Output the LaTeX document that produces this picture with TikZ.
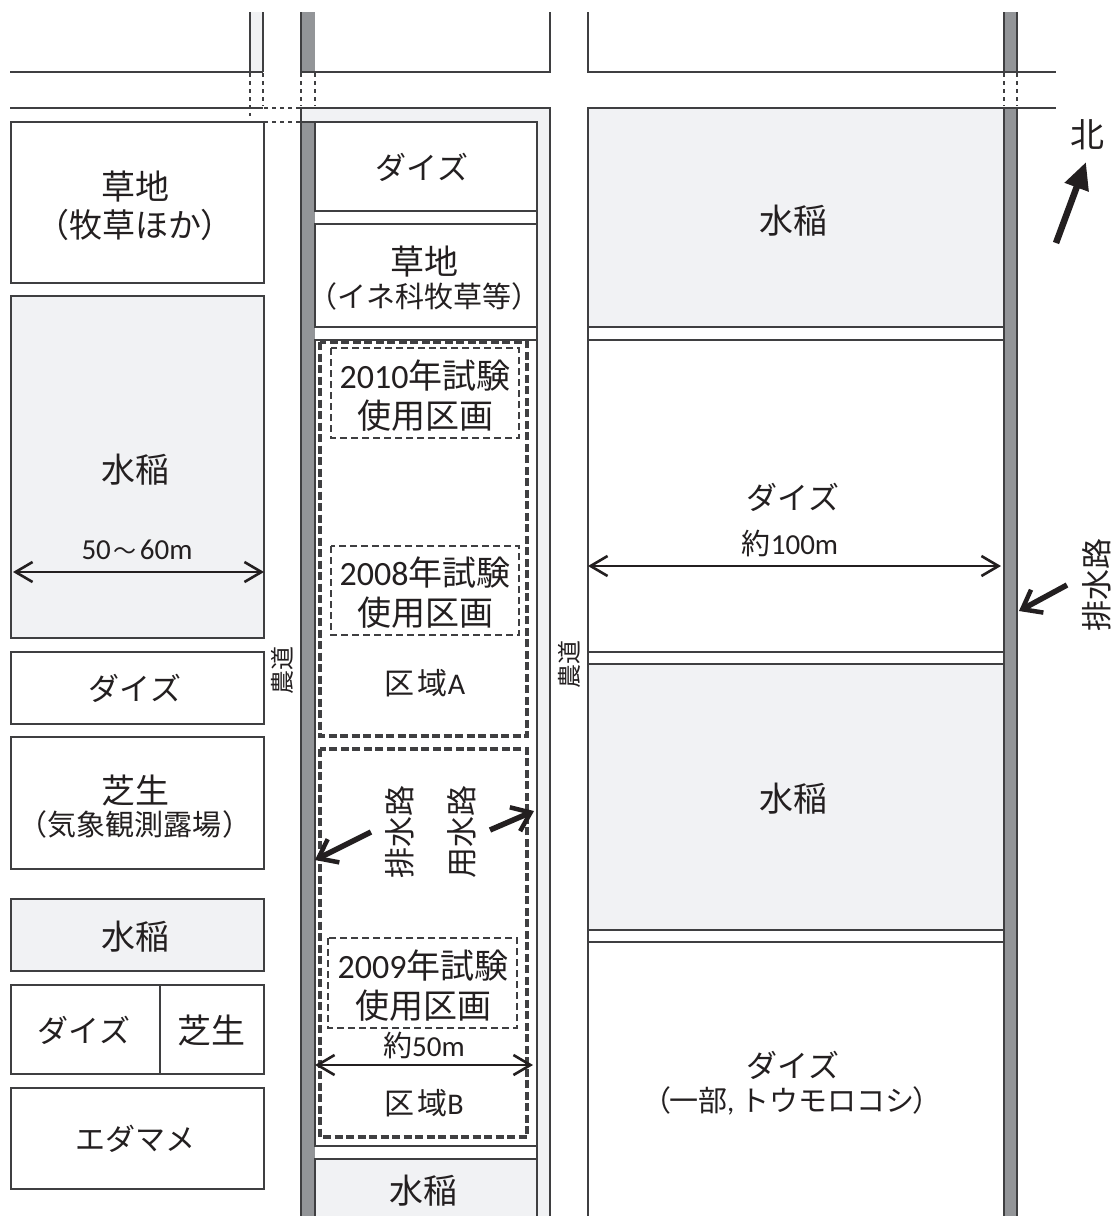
\documentclass[tikz,border=0pt]{standalone}
\usepackage{fontspec}
\usetikzlibrary{arrows.meta}
\setmainfont{Noto Sans CJK JP}
\newfontfamily\lat{Carlito}
\newcommand{\fs}[1]{\fontsize{#1}{#1}\selectfont}
\newcommand{\lp}[1]{\kern-.42em（\kern#1}
\newcommand{\rp}[1]{\kern#1）\kern-.42em}
\definecolor{ln}{HTML}{3F3F41}
\definecolor{ditch}{HTML}{939598}
\definecolor{pale}{HTML}{F1F2F4}
\definecolor{ink}{HTML}{231F20}
\tikzset{
 plot/.style={draw=ln,line width=1.7pt,fill=white},
 paddy/.style={plot,fill=pale},
 road/.style={draw=ln,line width=1.7pt},
 dots/.style={draw=ln,line width=2pt,dash pattern=on 3.5pt off 4.5pt},
 zone/.style={draw=ln,line width=3.2pt,dash pattern=on 8pt off 3.5pt},
 trial/.style={draw=ln,line width=1.6pt,dash pattern=on 7pt off 4pt},
 dim/.style={draw=ink,line width=2.6pt,{Straight Barb[length=17pt,width=20pt]}-{Straight Barb[length=17pt,width=20pt]}},
 pointer/.style={draw=ink,line width=5.5pt,-{Straight Barb[length=17pt,width=26pt,line width=4.5pt]}},
 lab/.style={text=ink,font=\fs{34},align=center,inner sep=0pt},
 kana/.style={text=ink,font=\fs{31},align=center,inner sep=0pt},
 mid/.style={text=ink,font=\fs{30},align=center,inner sep=0pt},
 sub/.style={text=ink,font=\fs{29},align=center,inner sep=0pt},
 tiny/.style={text=ink,font=\fs{24},inner sep=0pt,rotate=90},
 vert/.style={text=ink,font=\fs{31},inner sep=0pt,rotate=90}
}
\begin{document}
\begin{tikzpicture}[x=1pt,y=-1pt]
\useasboundingbox (0,0) rectangle (1118,1216);
% light roads and ditches
\fill[pale] (250,12) rectangle (263,72);
\fill[pale] (301,108) rectangle (550,122);
\fill[pale] (537,108) rectangle (550,1216);
\fill[ditch] (301,12) rectangle (315,72);
\fill[ditch] (301,122) rectangle (315,1216);
\fill[ditch] (1004,12) rectangle (1017,72);
\fill[ditch] (1004,108) rectangle (1017,1216);
% road edges, top
\draw[road] (250,12) -- (250,72);
\draw[road] (263,12) -- (263,72);
\draw[road] (10,72) -- (263,72);
\draw[road] (10,108) -- (263,108);
\draw[road] (301,12) -- (301,72) -- (550,72) -- (550,12);
\draw[road] (588,12) -- (588,72) -- (1056,72);
\draw[road] (588,108) -- (1056,108);
\draw[road] (1004,12) -- (1004,72);
\draw[road] (1017,12) -- (1017,72);
\draw[road] (1004,108) -- (1004,1216);
\draw[road] (1017,108) -- (1017,1216);
\draw[road] (301,1216) -- (301,108) -- (550,108) -- (550,1216);
\draw[road] (301,122) -- (537,122) -- (537,1216);
% crossings
\draw[dots] (250,73) -- (250,116);
\draw[dots] (263,73) -- (263,106);
\draw[dots] (301,73) -- (301,106);
\draw[dots] (315,73) -- (315,106);
\draw[dots] (264,108) -- (300,108);
\draw[dots] (264,122) -- (300,122);
\draw[dots] (1004,73) -- (1004,106);
\draw[dots] (1017,73) -- (1017,106);
% left column
\draw[plot] (11,122) rectangle (264,283);
\draw[paddy] (11,296) rectangle (264,638);
\draw[plot] (11,652) rectangle (264,724);
\draw[plot] (11,737) rectangle (264,869);
\draw[paddy] (11,899) rectangle (264,971);
\draw[plot] (11,985) rectangle (264,1074);
\draw[road] (160,985) -- (160,1074);
\draw[plot] (11,1088) rectangle (264,1189);
% centre column
\draw[plot] (315,122) rectangle (537,211);
\draw[plot] (315,224) rectangle (537,327);
\draw[plot] (315,340) rectangle (537,1146);
\draw[paddy] (315,1159) rectangle (537,1217);
\draw[zone] (320,342) rectangle (527,736);
\draw[zone] (320,749) rectangle (527,1137);
\draw[trial] (331,348) rectangle (519,438);
\draw[trial] (331,546) rectangle (519,635);
\draw[trial] (328,938) rectangle (517,1028);
% right column
\draw[road] (588,108) -- (588,1216);
\draw[paddy] (588,108) rectangle (1004,327);
\draw[plot] (588,340) rectangle (1004,652);
\draw[paddy] (588,664) rectangle (1004,930);
\draw[plot] (588,942) rectangle (1004,1217);
% labels, left
\node[lab] (t1) at (135,187) {草地};
\node[lab,font=\fs{33}] (t2) at (135,225) {\lp{0pt}牧草ほか\rp{0pt}};
\node[lab] (t3) at (135,470) {水稲};
\node[sub] (t4) at (137,550) {{\lat 50}\makebox[29pt]{\fs{23}〜}{\lat 60m}};
\node[kana] (t5) at (135,688) {ダイズ};
\node[lab] (t6) at (135,790) {芝生};
\node[sub] (t7) at (135,824) {\lp{1pt}気象観測露場\rp{1pt}};
\node[lab] (t8) at (135,937) {水稲};
\node[kana] (t9) at (84,1030) {ダイズ};
\node[lab] (t10) at (211,1030) {芝生};
\node[mid] (t11) at (135,1139) {エダマメ};
% labels, centre
\node[kana] (c1) at (422,167) {ダイズ};
\node[lab] (c2) at (424,262) {草地};
\node[sub] (c3) at (424,296) {\lp{0pt}イネ科牧草等\rp{0pt}};
\node[lab] (c4) at (425,376) {{\lat 2010}年試験};
\node[lab] (c5) at (425,416) {使用区画};
\node[lab] (c6) at (425,573) {{\lat 2008}年試験};
\node[lab] (c7) at (425,613) {使用区画};
\node[mid] (c8) at (425,683) {区\kern3pt 域{\lat A}};
\node[vert] (c9) at (400,832) {排水路};
\node[vert] (c10) at (462,832) {用水路};
\node[lab] (c11) at (423,966) {{\lat 2009}年試験};
\node[lab] (c12) at (423,1006) {使用区画};
\node[sub] (c13) at (424,1045) {約{\lat 50m}};
\node[mid] (c14) at (424,1103) {区\kern3pt 域{\lat B}};
\node[lab] (c15) at (423,1191) {水稲};
\node[tiny] (r1) at (282,670) {農道};
\node[tiny] (r2) at (569,664) {農道};
% labels, right
\node[lab] (d1) at (793,221) {水稲};
\node[kana] (d2) at (793,497) {ダイズ};
\node[sub] (d3) at (790,543) {約{\lat 100m}};
\node[lab] (d4) at (793,799) {水稲};
\node[kana] (d5) at (793,1065) {ダイズ};
\node[sub] (d6) at (792,1101) {\lp{-2pt}一部{\lat ,} トウモロコシ\rp{-2pt}};
\node[vert] (d7) at (1097,585) {排水路};
\node[lab] (n) at (1087,135) {北};
% dimension lines
\coordinate (a1) at (13,572); \coordinate (a2) at (264,572);
\coordinate (b1) at (588,566); \coordinate (b2) at (1001,566);
\coordinate (e1) at (315,1065); \coordinate (e2) at (533,1065);
\draw[dim] (a1) -- (a2);
\draw[dim] (b1) -- (b2);
\draw[dim] (e1) -- (e2);
% pointers
\coordinate (p1) at (371,832); \coordinate (p2) at (315,860);
\coordinate (q1) at (490,830); \coordinate (q2) at (534,811);
\coordinate (s1) at (1067,585); \coordinate (s2) at (1019,611);
\coordinate (u1) at (1056,243); \coordinate (u2) at (1086,162);
\draw[pointer] (p1) -- (p2);
\draw[pointer] (q1) -- (q2);
\draw[pointer] (s1) -- (s2);
\draw[draw=ink,line width=6.5pt,-{Triangle[length=27pt,width=24pt]}] (u1) -- (u2);
\end{tikzpicture}
\end{document}
